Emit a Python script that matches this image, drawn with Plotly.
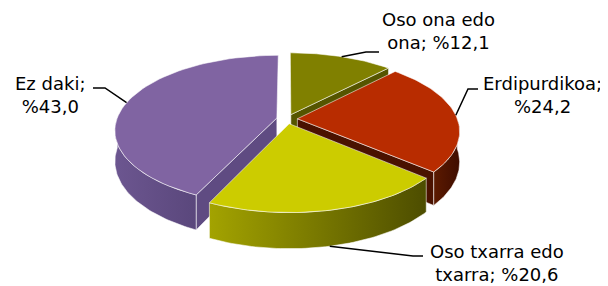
import math
import plotly.graph_objects as go

# ---- data ----
categories = ["Oso ona edo ona", "Erdipurdikoa", "Oso txarra edo txarra", "Ez daki"]
values = [12.1, 24.2, 20.6, 43.0]
label_text = ["Oso ona edo<br>ona; %12,1", "Erdipurdikoa;<br>%24,2",
              "Oso txarra edo<br>txarra; %20,6", "Ez daki;<br>%43,0"]

# ---- style ----
top_colors = ["#808000", "#B82C00", "#CCCC00", "#8064A2"]
wall_colors = [["#6B6B00", "#4D4D00"], ["#5C1A00", "#3F0D00"],
               ["#A3A300", "#4D4D00"], ["#6C5690", "#5A477C"]]
face_colors = ["#555500", "#4A1200", "#7A7A00", "#5F4B82"]
edge = dict(color="rgba(255,255,255,0.55)", width=1)

# projection parameters (window pixel space)
CX, CY, RX, RY, K, D, E = 287, 119, 160, 73, 0.16, 30, 0.065
W, H = 608, 286
BODY = 8  # default page body margin

# label layout: (elbow, end, text center)
label_layout = [
    ((366, 52), (379, 52), (438, 31)),
    ((468, 89), (478, 89), (542, 95)),
    ((413, 256), (423, 256), (497, 263)),
    ((105, 88), (93, 88), (50, 95)),
]


def proj(u, v, z=0.0):
    s = 1.0 / (1.0 - K * v)
    return CX + RX * u * s, CY + RY * v * s + D * z * s


def circ(a):
    r = math.radians(a)
    return math.sin(r), -math.cos(r)


def arc(ou, ov, a0, a1, z, n=60):
    pts = []
    for i in range(n + 1):
        a = a0 + (a1 - a0) * i / n
        u, v = circ(a)
        pts.append(proj(ou + u, ov + v, z))
    return pts


def poly_trace(pts, color=None, grad=None):
    xs = [p[0] for p in pts] + [pts[0][0]]
    ys = [p[1] for p in pts] + [pts[0][1]]
    kw = dict(x=xs, y=ys, mode="lines", fill="toself", line=edge,
              hoverinfo="skip", showlegend=False)
    if grad is not None:
        kw["fillgradient"] = dict(type="horizontal",
                                  colorscale=[[0, grad[0]], [1, grad[1]]])
    else:
        kw["fillcolor"] = color
    return go.Scatter(**kw)


total = sum(values)
slices = []
acc = 0.0
for i, val in enumerate(values):
    a0 = acc / total * 360
    acc += val
    a1 = acc / total * 360
    m = (a0 + a1) / 2
    mu, mv = circ(m)
    slices.append(dict(i=i, a0=a0, a1=a1, m=m, ou=E * mu, ov=E * mv, mv=mv))

fig = go.Figure()
for s in sorted(slices, key=lambda d: d["mv"]):
    i, a0, a1, ou, ov = s["i"], s["a0"], s["a1"], s["ou"], s["ov"]
    tip_t = proj(ou, ov, 0)
    tip_b = proj(ou, ov, 1)
    # radial faces
    for a, vis in ((a0, math.sin(math.radians(a0)) < -1e-6),
                   (a1, math.sin(math.radians(a1)) > 1e-6)):
        if vis:
            u, v = circ(a)
            pt = proj(ou + u, ov + v, 0)
            pb = proj(ou + u, ov + v, 1)
            fig.add_trace(poly_trace([tip_t, pt, pb, tip_b], color=face_colors[i]))
    # outer wall (front part)
    w0, w1 = max(a0, 90), min(a1, 270)
    if w1 > w0:
        top = arc(ou, ov, w0, w1, 0)
        bot = arc(ou, ov, w0, w1, 1)
        fig.add_trace(poly_trace(top + bot[::-1], grad=wall_colors[i]))
    # top face
    fig.add_trace(poly_trace([tip_t] + arc(ou, ov, a0, a1, 0), color=top_colors[i]))

# leader lines + labels
for s in slices:
    i = s["i"]
    mu, mv = circ(s["m"])
    z = 1.0 if s["mv"] > 0.5 else 0.0
    ax, ay = proj(s["ou"] + mu, s["ov"] + mv, z)
    elbow, end, tc = label_layout[i]
    fig.add_trace(go.Scatter(x=[ax, elbow[0], end[0]], y=[ay, elbow[1], end[1]],
                             mode="lines", line=dict(color="black", width=1.5),
                             hoverinfo="skip", showlegend=False))
    fig.add_annotation(x=tc[0], y=tc[1], xref="x", yref="y", text=label_text[i],
                       showarrow=False, xanchor="center", yanchor="middle",
                       align="center",
                       font=dict(family="DejaVu Sans, Verdana, sans-serif",
                                 size=18, color="black"))

fig.update_xaxes(range=[BODY, W], visible=False, fixedrange=True)
fig.update_yaxes(range=[H, BODY], visible=False, fixedrange=True)
fig.update_layout(width=W - BODY, height=H - BODY, margin=dict(l=0, r=0, t=0, b=0),
                  paper_bgcolor="white", plot_bgcolor="white")
fig.write_html("out.html")
